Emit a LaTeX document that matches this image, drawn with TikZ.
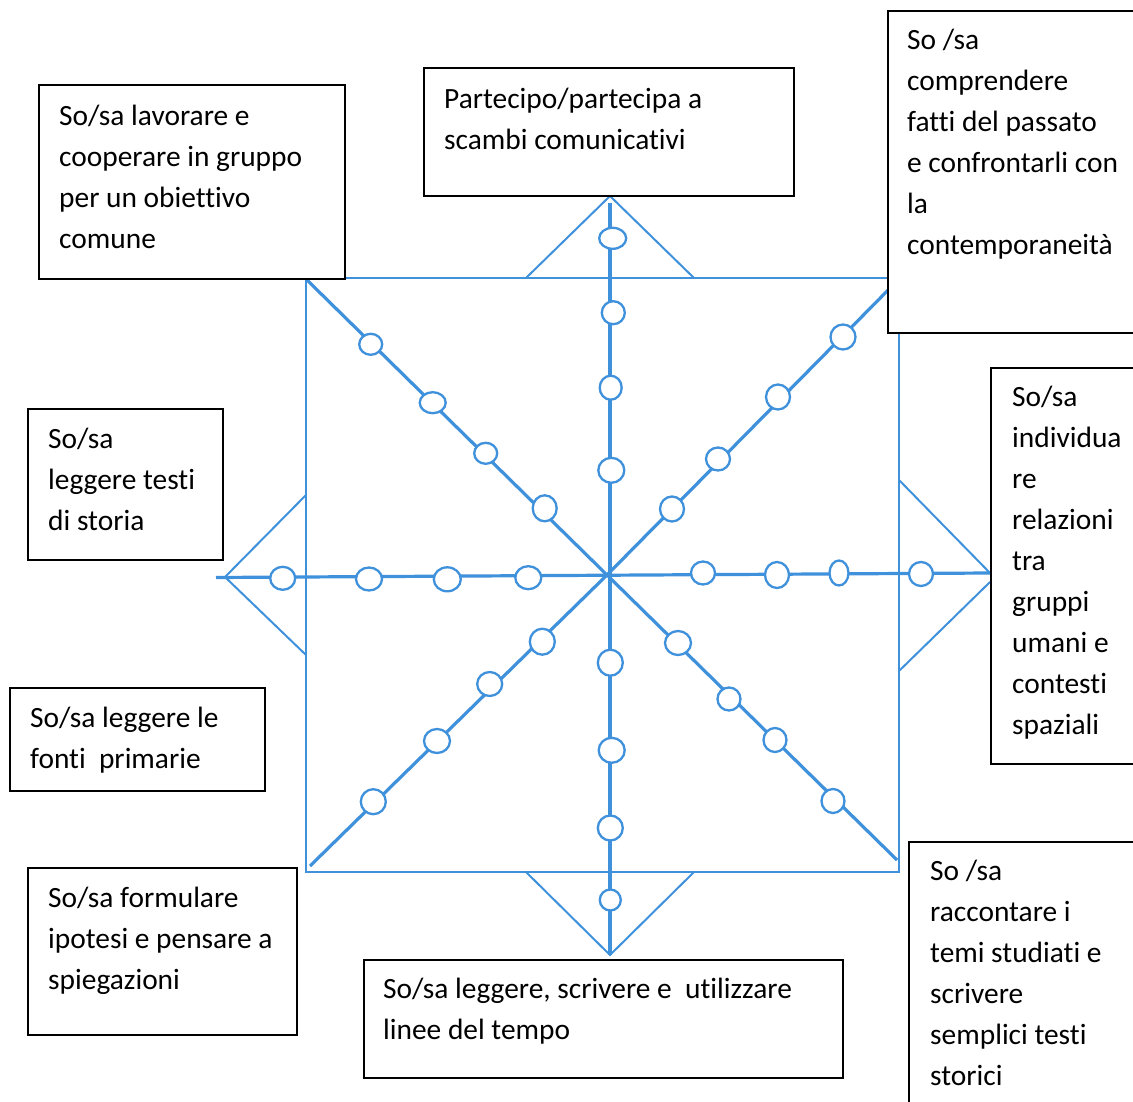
\documentclass[tikz,border=0pt]{standalone}
\usepackage{fontspec}
\setmainfont{Carlito}[Ligatures={NoCommon,NoRequired,NoContextual}]
\usetikzlibrary{shapes.geometric}
\definecolor{lineblue}{RGB}{64,145,220}
\begin{document}
\begin{tikzpicture}[x=1pt,y=-1pt,
  frame/.style={draw=lineblue,line width=2pt},
  spoke/.style={draw=lineblue,line width=3.2pt},
  dot/.style={ellipse,draw=lineblue,line width=2.3pt,fill=white,inner sep=0pt},
  boxshape/.style={draw=black,line width=2pt,fill=white,anchor=north west,inner sep=0pt},
  boxtext/.style={anchor=north west,inner sep=0pt,align=left,yshift=-1.5pt,font=\fontsize{29.4}{41}\selectfont}]
\useasboundingbox (0,0) rectangle (1133,1102);
% key points
\coordinate (C) at (607,575);
\coordinate (sqTL) at (306,278);
\coordinate (sqBR) at (899,872);
\coordinate (vTop) at (610,203);
\coordinate (vBot) at (610,955);
\coordinate (hL) at (216,577.5);
\coordinate (hR) at (990,573);
\coordinate (dTL) at (307,280);
\coordinate (dTR) at (899,279);
\coordinate (dBL) at (310,866);
\coordinate (dBR) at (897,860);
% square and triangles
\draw[frame] (sqTL) rectangle (sqBR);
\draw[frame] (526,278) -- (610,196) -- (694,278);
\draw[frame] (526,872) -- (610,955) -- (694,872);
\draw[frame] (306,495) -- (225,577) -- (306,655);
\draw[frame] (899,480) -- (990,573);
\draw[frame] (990,582) -- (899,671);
% spokes
\draw[spoke] (vTop) -- (vBot);
\draw[spoke] (hL) -- (hR);
\draw[spoke] (dTL) -- (C) -- (dBR);
\draw[spoke] (dBL) -- (C) -- (dTR);
% ellipses
\foreach \n/\x/\y/\w/\h in {
  v1/612.7/238.3/27/21, v2/613.3/312.7/23/23, v3/610.7/387.7/22/24, v4/611.3/470.3/26/25,
  v5/610.3/662.7/25/26, v6/611.7/750.3/26/25, v7/610.3/828/25/25, v8/610.3/900/21/21,
  h1/282.7/578.3/25/23, h2/369/579/26/23, h3/447.3/579.3/27/24, h4/528.3/577.7/26/23,
  h5/703/573/24/23, h6/777/575/24/26, h7/839/573/19/25, h8/921/574/24/24,
  a1/370.7/344.3/23/21, a2/432.7/402.7/26/21, a3/485.7/453.3/23/21, a4/544.7/508.3/24/26,
  b1/672/509/24/25, b2/718/459/24/23, b3/778/397/24/25, b4/843/337/25/25,
  c1/542.3/641.7/25/26, c2/489.7/684/25/24, c3/437/741/26/24, c4/373.3/801.7/25/25,
  d1/678/643/26/24, d2/729/699/23/23, d3/775/740/23/24, d4/833/801/23/24}
  \node[dot,minimum width=\w pt,minimum height=\h pt] (\n) at (\x,\y) {};
% boxes
\node[boxshape,minimum width=306pt,minimum height=194pt] (B1) at (38,84) {};
\node[boxtext] (T1) at (59,95.1) {\strut So/sa lavorare e\\cooperare in gruppo\\per un obiettivo\\comune};
\node[boxshape,minimum width=370pt,minimum height=128pt] (B2) at (423,67) {};
\node[boxtext] (T2) at (444,78.1) {\strut Partecipo/partecipa a\\scambi comunicativi};
\node[boxshape,minimum width=260pt,minimum height=322pt] (B3) at (887,10) {};
\node[boxtext] (T3) at (907,19.4) {\strut So /sa\\comprendere\\fatti del passato\\e confrontarli con\\la\\contemporaneità};
\node[boxshape,minimum width=195pt,minimum height=151pt] (B4) at (27,408) {};
\node[boxtext] (T4) at (48,417.8) {\strut So/sa\\leggere testi\\di storia};
\node[boxshape,minimum width=160pt,minimum height=396pt] (B5) at (990,367) {};
\node[boxtext] (T5) at (1012,376.1) {\strut So/sa\\individua\\re\\relazioni\\tra\\gruppi\\umani e\\contesti\\spaziali};
\node[boxshape,minimum width=255pt,minimum height=103pt] (B6) at (9,687) {};
\node[boxtext] (T6) at (30,696.8) {\strut So/sa leggere le\\fonti\ \ primarie};
\node[boxshape,minimum width=269pt,minimum height=167pt] (B7) at (27,867) {};
\node[boxtext] (T7) at (48,876.8) {\strut So/sa formulare\\ipotesi e pensare a\\spiegazioni};
\node[boxshape,minimum width=479pt,minimum height=118pt] (B8) at (363,959) {};
\node[boxtext] (T8) at (383,968.4) {\strut So/sa leggere, scrivere e\ \ utilizzare\\linee del tempo};
\node[boxshape,minimum width=240pt,minimum height=280pt] (B9) at (908,841) {};
\node[boxtext] (T9) at (930,850.1) {\strut So /sa\\raccontare i\\temi studiati e\\scrivere\\semplici testi\\storici};
\end{tikzpicture}
\end{document}
